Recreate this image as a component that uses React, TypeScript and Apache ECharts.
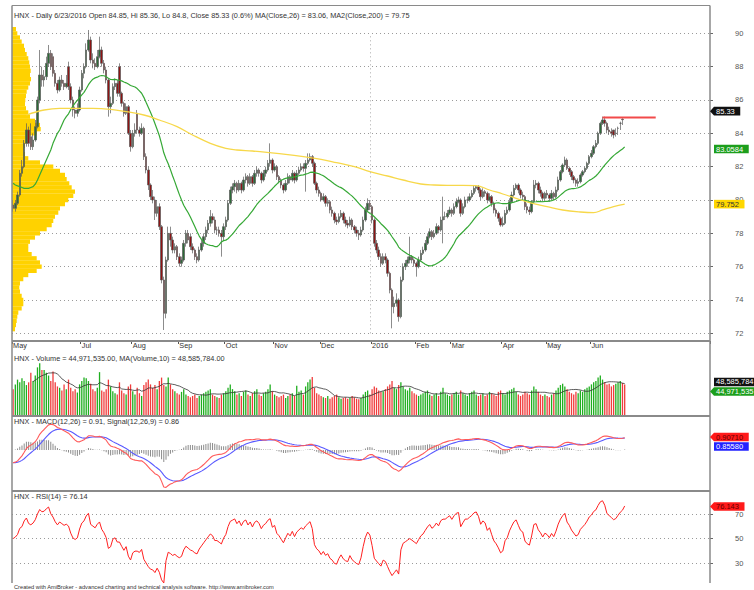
import React, { useEffect, useRef } from "react";
import * as echarts from "echarts";

// ---------- DATA ----------
const openP = [79.7,79.5,79.8,80.3,81.6,82.0,83.4,84.2,83.8,83.2,83.6,84.4,86.0,87.5,87.2,87.4,88.2,88.8,88.6,87.6,87.0,86.6,87.2,87.0,86.8,88.0,86.8,86.0,85.4,85.2,85.4,86.6,87.6,88.0,89.0,89.6,88.4,88.2,88.0,88.6,89.0,88.2,87.8,87.2,85.6,85.8,86.8,87.0,88.0,86.4,85.8,85.2,85.6,84.0,83.2,84.0,85.2,84.2,84.0,84.3,82.6,81.8,80.9,80.2,80.0,79.2,79.6,78.4,75.2,73.2,76.4,78.0,77.6,77.0,77.2,76.6,76.2,76.4,77.4,78.0,77.8,77.2,77.0,76.6,76.4,77.0,77.4,77.8,78.2,78.6,79.0,78.8,78.2,78.2,78.0,77.8,78.4,78.8,79.8,80.6,80.8,81.0,80.6,81.0,80.6,81.2,81.4,81.0,81.4,81.0,81.6,81.8,81.6,81.2,81.6,81.8,82.2,82.4,81.8,82.0,81.4,81.2,80.9,80.6,81.0,81.4,81.2,81.6,81.2,81.6,81.8,82.0,81.9,82.2,82.4,82.6,82.2,81.0,80.6,80.4,80.0,80.2,79.8,79.9,79.4,79.2,78.8,78.7,79.0,79.2,78.8,78.6,78.5,78.8,78.4,78.2,78.0,77.9,78.2,78.8,79.4,79.8,79.6,78.8,77.4,77.0,76.6,76.2,76.6,76.4,75.6,74.6,73.6,73.8,74.0,73.0,75.2,76.0,76.2,76.4,76.6,76.4,76.2,76.0,76.4,76.8,77.0,77.4,77.8,78.1,77.8,78.0,78.4,78.2,78.8,79.0,79.0,79.2,79.4,79.2,79.6,79.9,80.0,79.2,79.6,80.0,80.0,80.2,80.4,80.7,80.8,80.6,80.2,80.5,80.4,80.0,80.2,79.8,79.4,79.2,78.9,78.5,78.6,79.2,79.4,79.9,80.3,80.7,80.9,80.6,80.3,80.2,79.6,79.4,79.3,79.9,80.9,81.0,80.6,80.4,80.1,80.4,80.3,80.1,80.4,80.2,80.6,81.2,81.7,82.1,82.4,81.9,81.7,81.4,81.2,81.0,81.1,81.5,81.7,81.9,82.2,82.6,82.8,83.2,83.4,84.0,84.6,84.8,84.6,84.2,84.1,84.2,84.0,84.3,84.6,84.85];
const highP = [80.0,80.0,80.5,81.8,82.4,83.6,84.6,84.4,84.6,84.0,84.8,86.2,89.0,88.0,87.8,88.6,89.3,89.0,88.8,87.8,87.2,87.4,87.5,87.2,87.5,88.3,87.0,86.2,85.6,85.8,86.8,87.8,88.2,89.4,90.2,89.8,88.8,88.5,89.0,89.8,89.2,88.4,88.0,87.3,86.2,87.0,87.3,87.2,88.2,86.5,85.9,85.8,85.7,84.2,84.2,84.6,85.4,84.4,84.6,84.4,82.8,82.0,81.0,80.6,80.2,80.0,79.8,78.5,75.4,76.6,78.4,78.4,77.8,77.4,77.3,76.8,76.6,77.6,78.2,78.2,78.0,77.4,77.1,76.8,77.2,77.6,78.0,78.4,78.8,79.4,79.2,79.0,78.4,78.4,78.2,78.6,79.0,80.0,80.8,81.0,81.2,81.1,81.2,81.1,81.4,81.6,81.5,81.6,81.5,81.8,82.0,81.9,81.7,81.8,82.0,82.4,83.4,82.5,82.2,82.1,81.5,81.3,81.0,81.2,81.6,81.5,81.8,81.7,81.8,82.0,82.2,82.2,82.4,82.8,82.8,82.7,82.3,81.1,80.8,80.5,80.4,80.3,80.1,80.0,79.6,79.3,79.0,79.2,79.4,79.3,79.0,78.8,79.0,78.9,78.5,78.4,78.2,78.4,79.0,79.6,80.1,80.0,79.7,78.9,77.6,77.2,76.8,76.8,76.8,76.5,75.7,74.7,74.2,74.4,74.1,75.4,76.2,76.4,76.6,77.8,76.7,76.5,76.3,76.6,77.0,77.2,77.6,78.0,78.3,78.2,78.2,78.6,78.5,79.0,80.2,79.3,79.4,79.6,79.5,79.8,80.1,80.2,80.1,79.8,80.2,80.2,80.4,80.6,80.9,80.9,80.9,80.7,80.7,80.6,80.5,80.4,80.3,79.9,79.5,79.3,79.0,79.0,79.4,79.6,80.1,80.5,80.9,81.0,81.0,80.7,80.5,80.3,79.8,79.6,80.0,81.2,81.2,81.1,80.8,80.5,80.5,80.6,80.4,80.6,80.5,80.8,81.4,81.8,82.2,82.6,82.5,82.0,81.8,81.5,81.3,81.3,81.6,81.8,82.0,82.3,82.7,83.0,83.3,83.6,84.1,84.7,85.0,85.0,84.7,84.4,84.3,84.1,84.3,84.4,84.7,84.9,85.36];
const lowP = [79.3,79.3,79.7,80.2,81.4,81.9,83.2,83.2,83.0,83.0,83.5,84.3,85.8,86.8,86.8,87.2,88.0,87.8,87.4,86.8,86.4,86.5,86.8,86.6,86.7,86.6,85.8,85.0,84.9,85.0,85.3,86.5,87.3,87.9,88.9,88.2,87.9,87.8,87.9,88.5,88.0,87.6,87.0,85.0,85.2,85.7,86.6,86.2,86.2,85.6,85.0,85.1,83.9,82.9,83.1,83.8,84.0,83.8,83.9,82.4,81.6,80.6,80.0,79.8,78.8,79.0,78.2,75.0,72.2,72.9,76.3,77.2,76.8,76.8,76.4,76.0,76.0,76.3,77.2,77.4,77.0,76.8,76.4,76.2,76.3,76.9,77.2,77.6,78.0,78.4,78.6,78.0,77.9,77.8,76.6,77.6,78.2,78.7,79.7,80.4,80.5,80.4,80.5,80.4,80.5,81.0,80.8,80.9,80.8,80.9,81.4,81.4,81.0,81.1,81.4,81.7,82.0,81.6,81.7,81.2,81.0,80.7,80.4,80.5,80.9,81.0,81.1,81.0,81.1,81.5,81.7,81.7,80.5,82.1,82.3,82.0,80.9,80.4,80.2,79.9,79.9,79.6,79.6,79.2,79.0,78.6,78.5,78.6,78.9,78.6,78.4,78.3,78.4,78.2,78.0,77.8,77.6,77.8,78.1,78.7,79.3,79.4,78.6,77.2,76.8,76.4,76.0,76.1,76.2,75.4,74.4,72.3,73.2,73.6,72.7,72.9,75.1,75.8,76.0,76.2,76.2,76.0,75.4,75.9,76.3,76.7,76.9,77.3,77.7,77.6,77.7,77.9,78.0,78.1,77.4,78.8,78.9,79.1,79.0,79.1,79.5,79.8,79.0,79.1,79.5,79.8,79.9,80.1,80.3,80.5,80.4,80.0,80.1,80.2,79.8,79.9,79.6,79.2,79.0,78.7,78.4,78.4,78.5,79.1,79.3,79.8,80.2,80.6,80.4,80.1,80.0,79.4,79.2,79.1,79.2,79.8,80.7,80.4,80.2,79.9,80.0,80.1,79.9,80.0,80.0,80.1,80.5,81.1,81.6,82.0,81.8,81.5,81.2,81.0,80.8,80.8,81.0,81.4,81.6,81.8,82.1,82.5,82.7,83.1,83.3,83.9,84.5,84.4,84.0,83.9,83.8,83.7,83.8,83.9,84.2,84.5,84.8];
const closeP = [79.5,79.8,80.3,81.6,82.0,83.4,84.2,83.4,83.2,83.6,84.4,86.0,87.5,87.2,87.4,88.2,88.8,88.0,87.6,87.0,86.6,87.2,87.0,86.8,87.0,86.8,86.0,85.4,85.2,85.4,86.6,87.6,88.0,89.0,89.6,88.4,88.2,88.0,88.6,89.0,88.2,87.8,87.2,85.6,85.8,86.8,87.0,86.4,86.4,85.8,85.2,85.6,84.0,83.2,84.0,84.2,84.2,84.0,84.3,82.6,81.8,80.9,80.2,80.0,79.2,79.6,78.4,75.2,73.2,76.4,78.0,77.6,77.0,77.2,76.6,76.2,76.4,77.4,78.0,77.6,77.2,77.0,76.6,76.4,77.0,77.4,77.8,78.2,78.6,79.0,78.8,78.2,78.2,78.0,77.8,78.4,78.8,79.8,80.6,80.8,81.0,80.6,81.0,80.6,81.2,81.4,81.0,81.4,81.0,81.6,81.8,81.6,81.2,81.6,81.8,82.2,82.4,81.8,82.0,81.4,81.2,80.9,80.6,81.0,81.4,81.2,81.6,81.2,81.6,81.8,82.0,81.9,82.2,82.4,82.6,82.2,81.0,80.6,80.4,80.0,80.2,79.8,79.9,79.4,79.2,78.8,78.7,79.0,79.2,78.8,78.6,78.5,78.8,78.4,78.2,78.0,77.9,78.2,78.8,79.4,79.8,79.6,78.8,77.4,77.0,76.6,76.2,76.6,76.4,75.6,74.6,73.6,73.8,74.0,73.0,75.2,76.0,76.2,76.4,76.6,76.4,76.2,76.0,76.4,76.8,77.0,77.4,77.8,78.1,77.8,78.0,78.4,78.2,78.8,79.0,79.0,79.2,79.4,79.2,79.6,79.9,80.0,79.2,79.6,80.0,80.0,80.2,80.4,80.7,80.8,80.6,80.2,80.5,80.4,80.0,80.2,79.8,79.4,79.2,78.9,78.5,78.6,79.2,79.4,79.9,80.3,80.7,80.9,80.6,80.3,80.2,79.6,79.4,79.3,79.9,80.9,81.0,80.6,80.4,80.1,80.4,80.3,80.1,80.4,80.2,80.6,81.2,81.7,82.1,82.4,81.9,81.7,81.4,81.2,81.0,81.1,81.5,81.7,81.9,82.2,82.6,82.8,83.2,83.4,84.0,84.6,84.8,84.6,84.2,84.1,84.0,83.9,84.0,84.3,84.6,84.82,85.33];
// volume in millions of shares
const volumeM = [38,45,52,48,54,50,44,48,62,50,58,70,76,66,66,62,58,50,64,48,42,40,36,45,38,52,40,35,38,33,45,50,55,54,50,46,38,35,40,63,36,34,38,52,42,35,32,30,48,36,32,30,42,45,35,30,40,32,28,44,48,52,45,40,44,38,50,55,44,42,55,45,38,35,32,30,34,38,30,28,26,28,30,25,28,30,32,34,36,38,30,28,26,25,30,32,35,40,45,38,35,30,32,28,34,36,30,28,32,35,38,30,28,32,34,38,45,35,30,28,26,28,30,25,28,30,32,28,43,34,36,30,42,48,52,56,40,32,30,28,26,25,28,24,26,28,30,26,24,25,26,24,25,28,26,24,23,25,30,34,36,30,38,42,40,36,34,35,38,42,45,50,40,38,44,48,42,38,36,40,35,32,30,28,30,32,34,36,30,28,30,32,28,34,40,32,30,28,30,32,34,30,36,32,30,28,32,34,36,30,28,30,32,28,30,34,32,30,28,34,36,32,30,34,36,38,40,34,30,28,30,34,32,30,36,42,38,34,30,28,30,28,26,30,32,36,40,44,46,42,38,34,32,30,34,32,36,34,38,40,42,45,48,50,55,58,52,48,45,46,42,44,46,48,50,47,44.97];
// MA(Close,26) before 26 bars of history are on screen
const ma26Warmup = [81.0,80.9,80.85,80.8,80.75,80.7,80.7,80.7,80.75,80.8,80.95,81.2,81.5,81.8,82.1,82.4,82.7,83.0,83.4,83.7,84.0,84.2,84.5,84.8,85.0];
// MA2(Close,200)
const ma200Bars = [6,14,21,29,36,44,51,59,66,74,81,89,96,101,108,116,123,131,139,146,154,161,169,176,184,190,196,203,209,215,221,227,233,241,248,256,262,266,271,276];
const ma200Vals = [85.1,85.4,85.5,85.5,85.5,85.44,85.3,85.1,84.8,84.4,83.9,83.4,83.1,83.0,82.94,82.84,82.74,82.6,82.44,82.24,82.0,81.7,81.44,81.2,80.96,80.9,80.88,80.88,80.86,80.6,80.36,80.1,79.84,79.6,79.4,79.28,79.24,79.4,79.6,79.75];
// volume-at-price profile (relative units)
const profilePrice = [90.25,90.0,89.75,89.5,89.25,89.0,88.75,88.5,88.25,88.0,87.75,87.5,87.25,87.0,86.75,86.5,86.25,86.0,85.75,85.5,85.25,85.0,84.75,84.5,84.25,84.0,83.75,83.5,83.25,83.0,82.75,82.5,82.25,82.0,81.75,81.5,81.25,81.0,80.75,80.5,80.25,80.0,79.75,79.5,79.25,79.0,78.75,78.5,78.25,78.0,77.75,77.5,77.25,77.0,76.75,76.5,76.25,76.0,75.75,75.5,75.25,75.0,74.75,74.5,74.25,74.0,73.75,73.5,73.25,73.0,72.75,72.5,72.25];
const profileVol = [4,5.3,8,9.7,12,13,14.7,16.3,17.3,18,18.7,18,19,18,16.3,14.7,14,13.3,13,14,16.3,18,23,28,28.7,24.7,18,14.7,13,12,13,16.3,28,41.3,48,53,54.7,57.3,59.7,63,61.3,56.3,53,48,46.3,43,41.3,39.7,34.7,28,23,18,16.3,16.3,19.7,24.7,28,29.7,24.7,16.3,11.3,8,7.3,8,9.7,11.3,11.3,9.7,6.3,5.3,4.7,4,3];
const monthStart = [0,31,54,75,96,118,139,162,182,198,221,241,261];
const monthName = ["May","Jul","Aug","Sep","Oct","Nov","Dec","2016","Feb","Mar","Apr","May","Jun"];
const yearBreakBar = 161;
const resistance = [[266, 84.95], [290, 84.95]];
const macdSeed = [80.1, 81.0, -0.9]; // ema12, ema26, signal at first bar
const rsiSeed = [0.45, 0.45]; // avg gain, avg loss at first bar
const SLOTS = 315;

const FONT = '"Liberation Sans", Arial, sans-serif';

function buildIndicators() {
  const n = closeP.length;
  const ma26: number[] = [];
  for (let i = 0; i < n; i++) {
    if (i < 25) ma26.push(ma26Warmup[i]);
    else {
      let s = 0;
      for (let k = i - 25; k <= i; k++) s += closeP[k];
      ma26.push(+(s / 26).toFixed(3));
    }
  }
  let e12 = macdSeed[0], e26 = macdSeed[1], sig = macdSeed[2];
  const macd: number[] = [], signal: number[] = [], hist: number[] = [];
  for (let i = 0; i < n; i++) {
    if (i > 0) {
      e12 += (closeP[i] - e12) * 2 / 13;
      e26 += (closeP[i] - e26) * 2 / 27;
    }
    const m = e12 - e26;
    if (i > 0) sig += (m - sig) * 2 / 10;
    macd.push(+m.toFixed(4));
    signal.push(+sig.toFixed(4));
    hist.push(+(m - sig).toFixed(4));
  }
  let ag = rsiSeed[0], al = rsiSeed[1];
  const rsi: number[] = [];
  for (let i = 0; i < n; i++) {
    if (i > 0) {
      const d = closeP[i] - closeP[i - 1];
      ag = (ag * 13 + Math.max(d, 0)) / 14;
      al = (al * 13 + Math.max(-d, 0)) / 14;
    }
    rsi.push(+(100 * ag / (ag + al)).toFixed(2));
  }
  const vma: (number | null)[] = [];
  for (let i = 0; i < n; i++) {
    if (i < 9) { vma.push(null); continue; }
    let s = 0;
    for (let k = i - 9; k <= i; k++) s += volumeM[k];
    vma.push(+(s / 10).toFixed(3));
  }
  return { ma26, macd, signal, hist, rsi, vma };
}

export default function App() {
  const ref = useRef<HTMLDivElement>(null);
  useEffect(() => {
    document.body.style.margin = "0";
    const chart = echarts.init(ref.current as HTMLDivElement, null, { renderer: "svg" });
    const { ma26, macd, signal, hist, rsi, vma } = buildIndicators();
    const cats = Array.from({ length: SLOTS }, (_, i) => String(i));
    const isMonth = (i: number) => monthStart.indexOf(i) >= 0;
    const L = 12, W = 698;
    const hiddenX = (g: number) => ({
      type: "category", gridIndex: g, data: cats, boundaryGap: true, show: false,
    });
    const candles = closeP.map((c, i) => [openP[i], c, lowP[i], highP[i]]);
    const vols = volumeM.map((v, i) => ({
      value: v,
      itemStyle: { color: closeP[i] >= openP[i] ? "#1fae1f" : "#f03c3c" },
    }));
    const dotted = { color: "#9a9a9a", type: [1, 3], width: 1 };

    chart.setOption({
      animation: false,
      backgroundColor: "#ffffff",
      grid: [
        { left: L, width: W, top: 33.33, height: 300 },  // price
        { left: L, width: W, top: 33.33, height: 300 },  // profile overlay
        { left: L, width: W, top: 349, height: 66 },     // volume
        { left: L, width: W, top: 417, height: 73 },     // macd
        { left: L, width: W, top: 514, height: 49.2 },   // rsi (70..30)
        { left: L, width: W, top: 340, height: 1 },      // date labels
      ],
      xAxis: [
        hiddenX(0),
        { type: "value", gridIndex: 1, min: 0, max: W, show: false },
        hiddenX(2),
        hiddenX(3),
        hiddenX(4),
        {
          type: "category", gridIndex: 5, data: cats, boundaryGap: true, position: "bottom",
          axisLine: { show: false },
          axisTick: { show: true, interval: (i: number) => isMonth(i), length: 3, lineStyle: { color: "#555" } },
          axisLabel: {
            show: true, interval: (i: number) => isMonth(i), margin: 1, align: "left",
            formatter: (_v: string, i: number) => { const k = monthStart.indexOf(i); return k >= 0 ? monthName[k] : ""; },
            fontFamily: FONT, fontSize: 7.3, color: "#333",
          },
          splitLine: { show: false },
        },
      ],
      yAxis: [
        {
          type: "value", gridIndex: 0, min: 72, max: 90, interval: 2, position: "right",
          axisLine: { show: false },
          axisTick: { show: true, length: 3, lineStyle: { color: "#666" } },
          axisLabel: { margin: 25, fontFamily: FONT, fontSize: 7.5, color: "#555" },
          splitLine: { show: true, lineStyle: dotted },
        },
        { type: "value", gridIndex: 1, min: 72, max: 90, show: false },
        { type: "value", gridIndex: 2, min: 0, max: 97, show: false },
        { type: "value", gridIndex: 3, min: -2.82, max: 2.32, show: false },
        {
          type: "value", gridIndex: 4, min: 30, max: 70, interval: 20, position: "right",
          axisLine: { show: false },
          axisTick: { show: true, length: 3, lineStyle: { color: "#666" } },
          axisLabel: { margin: 25, fontFamily: FONT, fontSize: 7.5, color: "#555" },
          splitLine: { show: true, lineStyle: dotted },
        },
        { type: "value", gridIndex: 5, show: false },
      ],
      series: [
        {
          type: "custom", name: "profile", xAxisIndex: 1, yAxisIndex: 1, z: 1, clip: false,
          data: profilePrice.map((p, i) => [profileVol[i], p]),
          renderItem: (_params: any, api: any) => {
            const w = api.value(0), p = api.value(1);
            const a = api.coord([0, p + 0.13]);
            const b = api.coord([w, p - 0.13]);
            return { type: "rect", shape: { x: a[0], y: a[1], width: b[0] - a[0], height: b[1] - a[1] }, style: { fill: "#ffd200" } };
          },
        },
        {
          type: "candlestick", xAxisIndex: 0, yAxisIndex: 0, z: 3, clip: false, barWidth: 2,
          data: candles,
          itemStyle: { color: "#2c6b37", color0: "#8e1414", borderColor: "#5a5a5a", borderColor0: "#5a5a5a", borderWidth: 0.7 },
          markLine: {
            silent: true, symbol: "none", label: { show: false },
            lineStyle: { color: "#aaa", type: [1, 3], width: 1 },
            data: [{ xAxis: yearBreakBar }],
          },
        },
        {
          type: "line", xAxisIndex: 0, yAxisIndex: 0, z: 4, clip: false, data: ma26, showSymbol: false, symbol: "none",
          lineStyle: { color: "#35a835", width: 1.2 },
        },
        {
          type: "line", xAxisIndex: 0, yAxisIndex: 0, z: 4, clip: false, smooth: 0.4, showSymbol: false, symbol: "none",
          data: ma200Bars.map((b, i) => [b, ma200Vals[i]]),
          lineStyle: { color: "#f7d84a", width: 1.3 },
        },
        {
          type: "line", xAxisIndex: 0, yAxisIndex: 0, z: 5, clip: false, showSymbol: false, symbol: "none",
          data: resistance, lineStyle: { color: "#f24a4a", width: 2 },
        },
        {
          type: "bar", xAxisIndex: 2, yAxisIndex: 2, barWidth: 1.3, data: vols, z: 3,
        },
        {
          type: "line", xAxisIndex: 2, yAxisIndex: 2, data: vma, showSymbol: false, symbol: "none", z: 4,
          lineStyle: { color: "#333", width: 0.8 },
        },
        {
          type: "bar", xAxisIndex: 3, yAxisIndex: 3, barWidth: 1, data: hist, z: 2, clip: false,
          itemStyle: { color: "#8c8c8c" },
        },
        {
          type: "line", xAxisIndex: 3, yAxisIndex: 3, data: macd, showSymbol: false, symbol: "none", z: 4, clip: false,
          lineStyle: { color: "#ff5a5a", width: 1.1 },
        },
        {
          type: "line", xAxisIndex: 3, yAxisIndex: 3, data: signal, showSymbol: false, symbol: "none", z: 3, clip: false,
          lineStyle: { color: "#5a5aff", width: 1.1 },
        },
        {
          type: "line", xAxisIndex: 4, yAxisIndex: 4, data: rsi, showSymbol: false, symbol: "none", z: 4, clip: false,
          lineStyle: { color: "#ff2020", width: 1 },
        },
      ],
    });

    // ---- value tags on the right axis, placed through the axes' scales ----
    const last = closeP.length - 1;
    const py = (g: number, v: number) => (chart.convertToPixel({ gridIndex: g }, [last, v]) as number[])[1];
    type Tag = { y: number; text: string; bg: string; fg: string; arrow: boolean };
    const stack = (tags: Tag[]) => {
      for (let i = 1; i < tags.length; i++) if (tags[i].y - tags[i - 1].y < 9.5) tags[i].y = tags[i - 1].y + 9.5;
      return tags;
    };
    const tagEls = (t: Tag) => {
      const h = 8.6, w = t.text.length * 4.25 + 5;
      const x0 = 714;
      const pts = t.arrow
        ? [[710, t.y], [714, t.y - h / 2], [x0 + w, t.y - h / 2], [x0 + w, t.y + h / 2], [714, t.y + h / 2]]
        : [[x0, t.y - h / 2], [x0 + w, t.y - h / 2], [x0 + w, t.y + h / 2], [x0, t.y + h / 2]];
      return [
        { type: "polygon", z: 100, shape: { points: pts }, style: { fill: t.bg } },
        { type: "text", z: 101, x: x0 + 2, y: t.y, style: { text: t.text, fill: t.fg, font: `7.5px ${FONT}`, verticalAlign: "middle" } },
      ];
    };
    const priceTags = stack([
      { y: py(0, 85.33), text: "85.33", bg: "#111", fg: "#fff", arrow: true },
      { y: py(0, 83.0584), text: "83.0584", bg: "#1c9e1c", fg: "#fff", arrow: false },
      { y: py(0, 79.752), text: "79.752", bg: "#ffd700", fg: "#333", arrow: false },
    ]);
    const volTags = stack([
      { y: py(2, 48.585784), text: "48,585,784", bg: "#111", fg: "#fff", arrow: false },
      { y: py(2, 44.971535), text: "44,971,535", bg: "#1c9e1c", fg: "#fff", arrow: true },
    ]);
    const macdTags = stack([
      { y: py(3, 0.9071), text: "0.90710", bg: "#ff1a1a", fg: "#600", arrow: true },
      { y: py(3, 0.8558), text: "0.85580", bg: "#2222ff", fg: "#fff", arrow: false },
    ]);
    const rsiTags = [{ y: py(4, 76.143), text: "76.143", bg: "#ff1a1a", fg: "#600", arrow: true }];
    const tags: any[] = [];
    [...priceTags, ...volTags, ...macdTags, ...rsiTags].forEach((t) => tags.push(...tagEls(t)));

    const line = (x1: number, y1: number, x2: number, y2: number, w = 1.5) => ({
      type: "line", z: 50, shape: { x1, y1, x2, y2 }, style: { stroke: "#8a8a8a", lineWidth: w },
    });
    const title = (y: number, text: string, rich: any) => ({
      type: "text", z: 60, x: 14, y,
      style: { text, rich, font: `7.3px ${FONT}`, fill: "#333", verticalAlign: "middle" },
    });
    const base = { fontFamily: FONT, fontSize: 7.3, color: "#333" };
    chart.setOption({
      graphic: [
        line(12, 5.5, 710, 5.5, 1.2),
        line(12, 5.5, 12, 583),
        line(710, 5.5, 710, 583),
        line(12, 341, 710, 341, 2),
        line(12, 416, 710, 416, 2),
        line(12, 491, 710, 491, 2),
        title(15, "{a|HNX - Daily 6/23/2016 Open 84.85, Hi 85.36, Lo 84.8, Close 85.33 (0.6%) }{g|MA(Close,26)}{a| = 83.06, }{y|MA2(Close,200)}{a| = 79.75}", {
          a: base, g: { ...base, color: "#1f9e1f" }, y: { ...base, color: "#f2c200" },
        }),
        title(358, "{a|HNX - }{g|Volume}{a| = 44,971,535.00, MA(Volume,10) = 48,585,784.00}", {
          a: base, g: { ...base, color: "#1f9e1f" },
        }),
        title(421, "{a|HNX - }{r|MACD(12,26)}{a| = 0.91, }{b|Signal(12,26,9)}{a| = 0.86}", {
          a: base, r: { ...base, color: "#ff3030" }, b: { ...base, color: "#3030ff" },
        }),
        title(496, "{a|HNX - }{r|RSI(14)}{a| = 76.14}", {
          a: base, r: { ...base, color: "#ff3030" },
        }),
        {
          type: "text", z: 60, x: 14, y: 587,
          style: { text: "Created with AmiBroker - advanced charting and technical analysis software. http://www.amibroker.com", font: `5.7px ${FONT}`, fill: "#333", verticalAlign: "middle" },
        },
        ...tags,
      ],
    });
    return () => chart.dispose();
  }, []);
  return <div ref={ref} style={{ width: 754, height: 590, background: "#fff" }} />;
}
